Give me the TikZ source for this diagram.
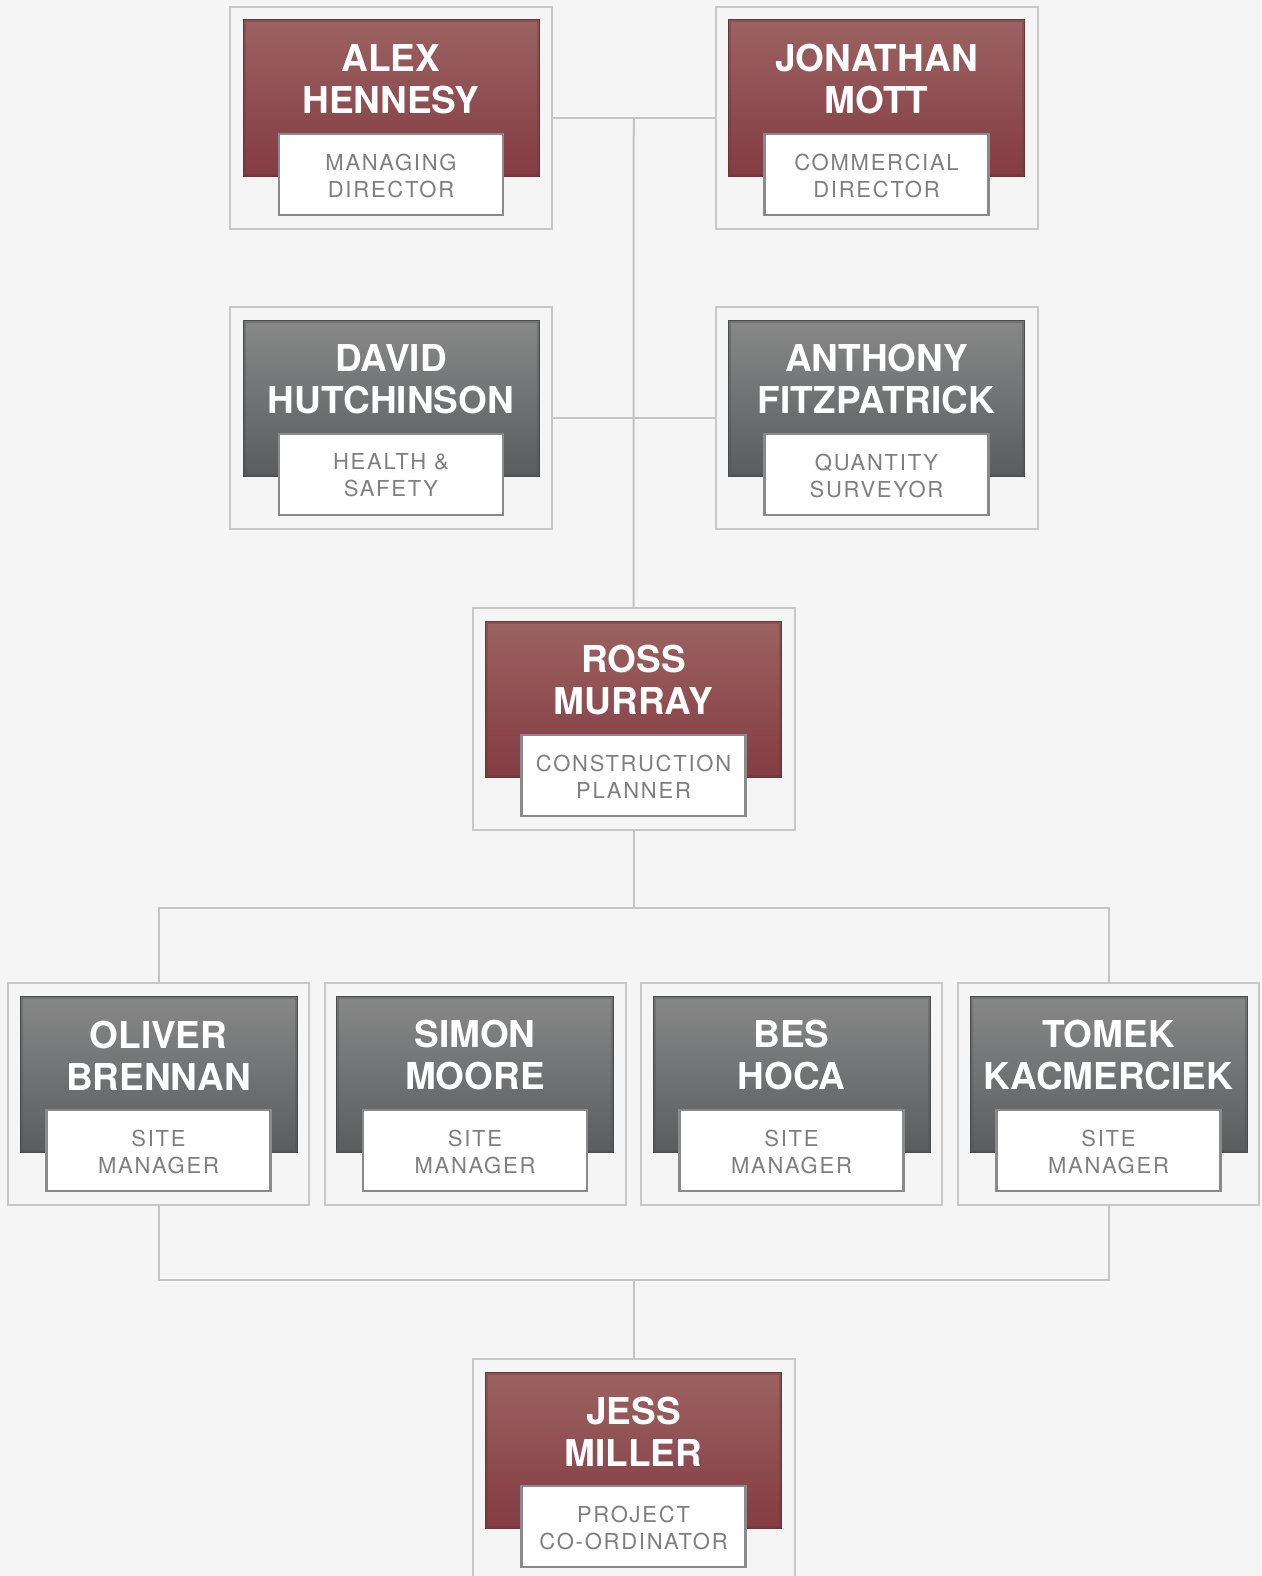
\documentclass[tikz,border=0pt]{standalone}
\usepackage{fontspec}
\setmainfont{TeX Gyre Heros}
\newfontfamily\rolefont[LetterSpace=8]{TeX Gyre Heros}
\usetikzlibrary{calc}
\definecolor{bgc}{HTML}{F5F5F5}
\definecolor{framec}{HTML}{C8C8C8}
\definecolor{linec}{HTML}{C4C4C4}
\definecolor{redtop}{HTML}{9C6262}
\definecolor{redbot}{HTML}{843C42}
\definecolor{rededge}{HTML}{6A3638}
\definecolor{graytop}{HTML}{888888}
\definecolor{graybot}{HTML}{5A5C5E}
\definecolor{grayedge}{HTML}{4A4C4E}
\definecolor{roleborder}{HTML}{8A8A8A}
\definecolor{roletextc}{HTML}{7F7F7F}
\tikzset{
  outerbox/.style={draw=framec, fill=bgc, line width=2pt, minimum height=222pt, inner sep=0pt, outer sep=0pt},
  card/.style={minimum height=156pt, inner sep=0pt, outer sep=0pt, line width=1pt},
  redcard/.style={card, top color=redtop, bottom color=redbot, draw=rededge,
    path picture={\draw[line width=5pt, rededge, opacity=.35] (path picture bounding box.south west) rectangle (path picture bounding box.north east);}},
  graycard/.style={card, top color=graytop, bottom color=graybot, draw=grayedge,
    path picture={\draw[line width=5pt, grayedge, opacity=.35] (path picture bounding box.south west) rectangle (path picture bounding box.north east);}},
  rolebox/.style={draw=roleborder, fill=white, line width=2.5pt, minimum width=224pt, minimum height=81pt, inner sep=0pt, outer sep=0pt},
  nametext/.style={text=white, align=center, inner sep=0pt, font=\fontsize{37}{42}\selectfont\bfseries},
  roletext/.style={text=roletextc, align=center, inner sep=0pt, font=\rolefont\fontsize{22}{27}\selectfont},
  conn/.style={draw=linec, line width=2pt}
}
% #1 id, #2 x, #3 top, #4 outer width, #5 card width, #6 scheme, #7 name, #8 role
\newcommand\orgcard[8]{%
  \node[outerbox, minimum width=#4pt] (#1) at (#2,#3+111) {};
  \node[#6card, minimum width=#5pt] (#1c) at (#2,#3+91) {};
  \node[rolebox] (#1r) at (#2,#3+167.5) {};
  \node[nametext] (#1n) at (#2,#3+72.5) {#7};
  \node[roletext] (#1t) at (#2,#3+168.5) {#8};
}
\begin{document}
\begin{tikzpicture}[x=1pt,y=-1pt]
\fill[bgc] (0,0) rectangle (1261,1576);
\useasboundingbox (0,0) rectangle (1261,1576);
\clip (0,0) rectangle (1261,1576);
% row 1
\orgcard{ah}{391}{7}{322}{296}{red}{ALEX\\HENNESY}{MANAGING\\DIRECTOR}
\orgcard{jm}{876.5}{7}{322}{296}{red}{JONATHAN\\MOTT}{COMMERCIAL\\DIRECTOR}
% row 2
\orgcard{dh}{391}{307}{322}{296}{gray}{DAVID\\HUTCHINSON}{HEALTH \&\\SAFETY}
\orgcard{af}{876.5}{307}{322}{296}{gray}{ANTHONY\\FITZPATRICK}{QUANTITY\\SURVEYOR}
% row 3
\orgcard{rm}{633.5}{608}{322}{296}{red}{ROSS\\MURRAY}{CONSTRUCTION\\PLANNER}
% row 4
\orgcard{ob}{158.5}{983}{301}{277}{gray}{OLIVER\\BRENNAN}{SITE\\MANAGER}
\orgcard{sm}{475}{983}{301}{277}{gray}{SIMON\\MOORE}{SITE\\MANAGER}
\orgcard{bh}{791.5}{983}{301}{277}{gray}{BES\\HOCA}{SITE\\MANAGER}
\orgcard{tk}{1108.5}{983}{301}{277}{gray}{TOMEK\\KACMERCIEK}{SITE\\MANAGER}
% row 5
\orgcard{jsm}{633.5}{1359}{322}{296}{red}{JESS\\MILLER}{PROJECT\\CO-ORDINATOR}
% connectors
\coordinate (t1) at ($(ah.east)!0.5!(jm.west)$);
\coordinate (b1) at (rm.south |- 0,908);
\coordinate (b2) at (rm.south |- 0,1280);
\draw[conn] (ah.east) -- (jm.west);
\draw[conn] (dh.east) -- (af.west);
\draw[conn] (t1) -- (rm.north);
\draw[conn] (rm.south) -- (b1);
\draw[conn] (ob.north) -- (ob.north |- b1) -- (tk.north |- b1) -- (tk.north);
\draw[conn] (ob.south) -- (ob.south |- b2) -- (tk.south |- b2) -- (tk.south);
\draw[conn] (b2) -- (jsm.north);
\end{tikzpicture}
\end{document}
